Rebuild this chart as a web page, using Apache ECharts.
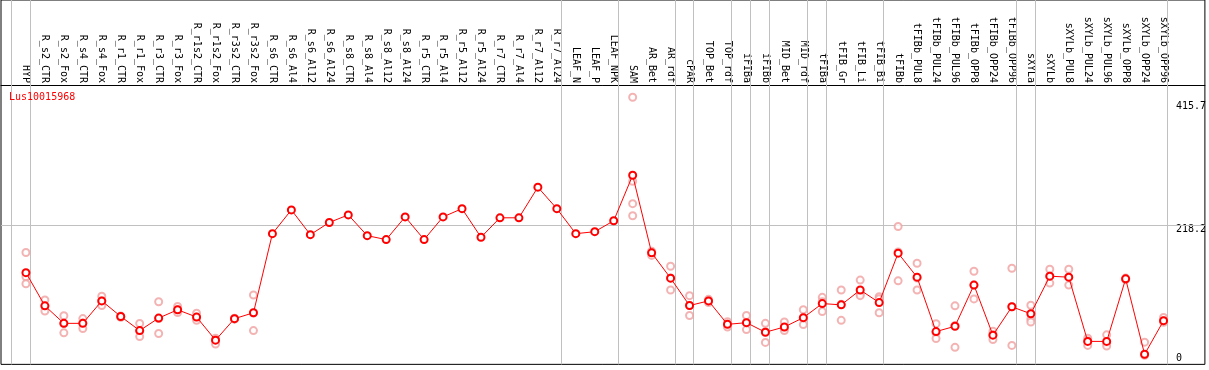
<!DOCTYPE html>
<html>
<head>
<meta charset="utf-8">
<script src="https://cdn.jsdelivr.net/npm/echarts@6/dist/echarts.min.js"></script>
<style>
html,body{margin:0;padding:0;background:#fff;}
#chart{width:1209px;height:370px;}
</style>
</head>
<body>
<div id="chart"></div>
<script>
const geneName = 'Lus10015968';
const categories = ['HYP','R_s2_CTR','R_s2_Fox','R_s4_CTR','R_s4_Fox','R_r1_CTR','R_r1_Fox','R_r3_CTR','R_r3_Fox','R_r1s2_CTR','R_r1s2_Fox','R_r3s2_CTR','R_r3s2_Fox','R_s6_CTR','R_s6_Al4','R_s6_Al12','R_s6_Al24','R_s8_CTR','R_s8_Al4','R_s8_Al12','R_s8_Al24','R_r5_CTR','R_r5_Al4','R_r5_Al12','R_r5_Al24','R_r7_CTR','R_r7_Al4','R_r7_Al12','R_r7_Al24','LEAF_N','LEAF_P','LEAF_NPK','SAM','AR_Bet','AR_rdf','cPAR','TOP_Bet','TOP_rdf','iFIBa','iFIBb','MID_Bet','MID_rdf','tFIBa','tFIB_Gr','tFIB_Li','tFIB_Bi','tFIBb','tFIBb_PUL8','tFIBb_PUL24','tFIBb_PUL96','tFIBb_OPP8','tFIBb_OPP24','tFIBb_OPP96','sXYLa','sXYLb','sXYLb_PUL8','sXYLb_PUL24','sXYLb_PUL96','sXYLb_OPP8','sXYLb_OPP24','sXYLb_OPP96'];
const means = [142.8,89.4,61.3,61.3,97.4,72.4,49.7,69.8,83.1,71.4,34.3,68.8,78.3,205.4,243.6,203.8,223.4,235.6,202.2,195.9,232.4,195.9,232.4,245.6,199.6,230.9,230.9,280.1,245.6,205.4,208.6,226.1,299.2,174.6,133.9,89.9,97.4,59.7,62.4,47.0,55.5,70.4,93.1,91.0,114.9,94.7,174.1,135.5,48.1,56.6,122.8,42.3,87.9,76.7,137.1,135.5,32.3,32.3,132.8,11.6,65.6];
const replicates = [
  [175.2,136,124.9],[99,89,81],[73.5,61,46],[69,62,53],[105,97.5,90],[73,72,71],[61,49,40],[96,69,45],[88.3,83,78.8],[77.7,71,66.1],[37.5,34,28],[69.5,68.5,68],[106.9,78,49.7],
  [],[],[],[],[],[],[],[],[],[],[],[],[],[],[],[],[],[],[],
  [424.7,289.6,253.6,234.2],[177.3,175,170.5],[153,134,114.9],[105.8,90,74],[99.9,97.5,94.7],[64,59.7,55.5],[74,62,51.3],[61.3,48,30.7],[63.4,53.5,49.7],[83.1,69,59.3],
  [103.1,96,80.4],[114.9,92,66.1],[130.8,108,105.8],[104.2,101,78.3],
  [217,176,129.6],[157.8,134,114.9],[60.8,46.5,37],[89.4,57.7,22.7],[145,122.8,100.6],[48.6,42.9,35.4],[149.8,88,25.9],
  [90.4,68.2,63.4],[148.2,137,126],[148.2,135.5,122.8],[37.5,33.5,25.9],[42.8,29.5,24.8],[134,132.8,131.5],[31.1,10,-6],[70.9,65.6,62.9]
];
const groupEnds = [-1,0,28,31,34,35,37,38,39,41,42,45,52,53,60];
const yTicks = [0,218.2,415.7];
const gridValue = 218.2;

const font = 'DejaVu Sans Mono';
const meanData = means.map((v,i)=>[i,v]);
const repData = [];
replicates.forEach((arr,i)=>arr.forEach(v=>repData.push([i,v])));

const chart = echarts.init(document.getElementById('chart'), null, {renderer:'canvas'});
chart.setOption({
  animation:false,
  backgroundColor:'#fff',
  title:{text:geneName,left:9,top:91,padding:0,textStyle:{fontFamily:font,fontSize:10,fontWeight:'normal',color:'#ff0000',lineHeight:12}},
  grid:{left:1,right:1,top:0,bottom:1.5,show:true,borderColor:'#000',borderWidth:1,backgroundColor:'transparent'},
  xAxis:{
    type:'value',position:'top',offset:-85,min:-1.315,max:62.18,
    axisLine:{show:true,onZero:false,lineStyle:{color:'#000',width:1}},
    axisTick:{show:false},splitLine:{show:false},
    axisLabel:{
      customValues:categories.map((c,i)=>i),
      rotate:90,margin:2,fontFamily:font,fontSize:10,color:'#000',
      formatter:v=>categories[Math.round(v)]
    }
  },
  yAxis:{
    type:'value',position:'right',min:-4.61,max:580.9,
    axisLine:{show:false},axisTick:{show:false},splitLine:{show:false},
    axisLabel:{
      customValues:yTicks,inside:true,margin:29,align:'left',verticalAlign:'middle',
      formatter:v=> v===0 ? '{b|'+v+'}' : '{t|'+v+'}',
      rich:{
        t:{fontFamily:font,fontSize:10,lineHeight:10,color:'#000',padding:[7,0,0,0]},
        b:{fontFamily:font,fontSize:10,lineHeight:10,color:'#000',padding:[0,0,7,0]}
      }
    }
  },
  series:[
    {
      type:'scatter',name:'replicates',data:repData,z:2,
      symbol:'emptyCircle',symbolSize:7,
      itemStyle:{color:'#f0a0a0',borderColor:'#f0a0a0',borderWidth:1.2},
      markLine:{
        silent:true,z:1,symbol:['none','none'],label:{show:false},
        lineStyle:{color:'#c0c0c0',type:'solid',width:1},
        data:[...groupEnds.map(b=>({xAxis:b+0.22})),{yAxis:gridValue}]
      }
    },
    {
      type:'line',name:geneName,data:meanData,z:3,
      symbol:'emptyCircle',symbolSize:7,
      lineStyle:{color:'#ff0000',width:1},
      itemStyle:{color:'#ff0000',borderColor:'#ff0000',borderWidth:1.6}
    }
  ]
});
</script>
</body>
</html>
